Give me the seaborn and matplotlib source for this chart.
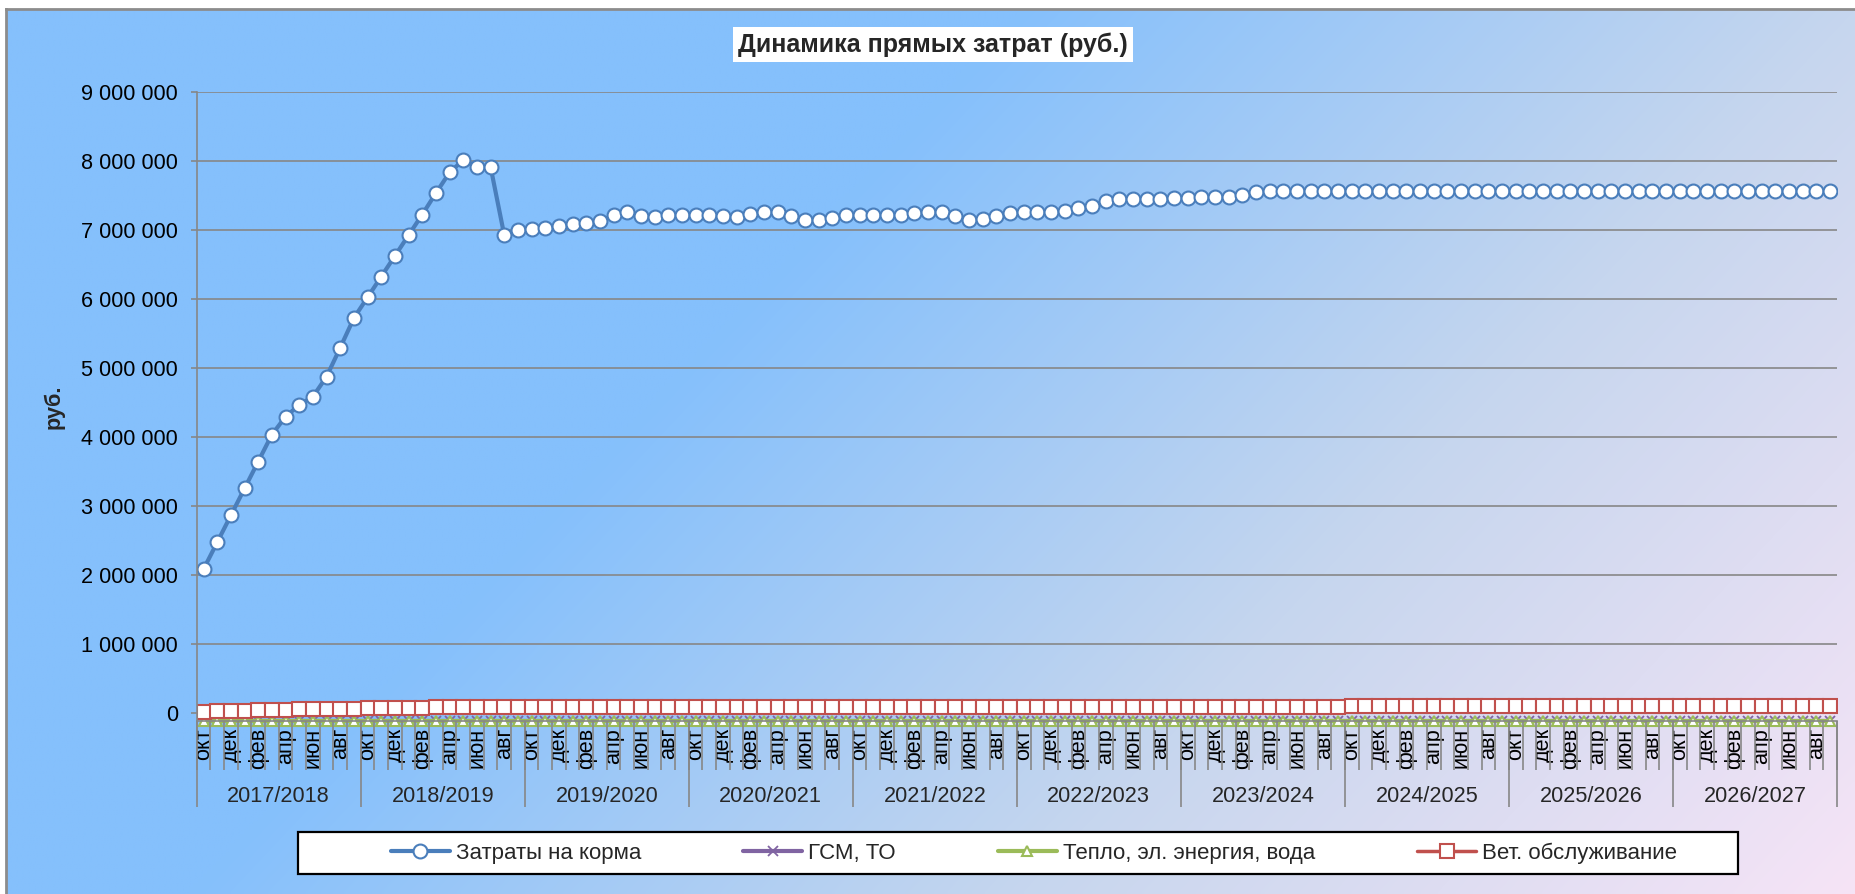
import numpy as np
import matplotlib
matplotlib.use("Agg")
import matplotlib.pyplot as plt
import matplotlib.ticker as mticker
from matplotlib.patches import Rectangle
import seaborn as sns

# --- data (rub.) ---
seasons = ["2017/2018", "2018/2019", "2019/2020", "2020/2021", "2021/2022",
           "2022/2023", "2023/2024", "2024/2025", "2025/2026", "2026/2027"]
months = ["окт", "ноя", "дек", "янв", "фев", "мар", "апр", "май", "июн", "июл", "авг", "сен"]

feed = [
    2080000, 2470000, 2860000, 3250000, 3640000, 4030000, 4290000, 4460000, 4580000, 4870000, 5290000, 5720000,
    6020000, 6320000, 6620000, 6920000, 7220000, 7530000, 7830000, 8010000, 7910000, 7910000, 6920000, 6990000,
    7010000, 7030000, 7050000, 7080000, 7100000, 7120000, 7210000, 7260000, 7200000, 7190000, 7210000, 7220000,
    7220000, 7210000, 7200000, 7190000, 7230000, 7260000, 7260000, 7200000, 7140000, 7140000, 7170000, 7210000,
    7210000, 7210000, 7210000, 7210000, 7240000, 7260000, 7260000, 7200000, 7140000, 7150000, 7200000, 7240000,
    7250000, 7250000, 7260000, 7270000, 7310000, 7350000, 7410000, 7450000, 7440000, 7440000, 7450000, 7460000,
    7460000, 7470000, 7470000, 7470000, 7510000, 7550000, 7560000, 7560000, 7560000, 7560000, 7560000, 7560000,
    7560000, 7560000, 7560000, 7560000, 7560000, 7560000, 7560000, 7560000, 7560000, 7560000, 7560000, 7560000,
    7560000, 7560000, 7560000, 7560000, 7560000, 7560000, 7560000, 7560000, 7560000, 7560000, 7560000, 7560000,
    7560000, 7560000, 7560000, 7560000, 7560000, 7560000, 7560000, 7560000, 7560000, 7560000, 7560000, 7560000,
]

vet = [
    15000, 20000, 25000, 30000, 35000, 40000, 44000, 48000, 52000, 55000, 58000, 61000,
    64000, 67000, 70000, 72000, 75000, 77000, 79000, 81000, 82000, 83000, 84000, 85000,
    86000, 86000, 86000, 86000, 86000, 86000, 86000, 86000, 86000, 86000, 86000, 86000,
    87000, 87000, 87000, 87000, 87000, 87000, 87000, 87000, 87000, 87000, 87000, 87000,
    88000, 88000, 88000, 88000, 88000, 88000, 88000, 88000, 88000, 88000, 88000, 88000,
    89000, 89000, 89000, 89000, 89000, 89000, 89000, 89000, 89000, 89000, 89000, 89000,
    90000, 90000, 90000, 90000, 90000, 90000, 90000, 90000, 90000, 90000, 90000, 90000,
    91000, 91000, 91000, 91000, 91000, 91000, 91000, 91000, 91000, 91000, 91000, 91000,
    92000, 92000, 92000, 92000, 92000, 92000, 92000, 92000, 92000, 92000, 92000, 92000,
    93000, 93000, 93000, 93000, 93000, 93000, 93000, 93000, 93000, 93000, 93000, 93000,
]

# fuel and utilities sit flat on the bottom of the chart (secondary scale)
gsm = [
    0, 0, 0, 0, 0, 0, 0, 0, 0, 0, 0, 0,
    0, 0, 0, 0, 0, 0, 0, 0, 0, 0, 0, 0,
    0, 0, 0, 0, 0, 0, 0, 0, 0, 0, 0, 0,
    0, 0, 0, 0, 0, 0, 0, 0, 0, 0, 0, 0,
    0, 0, 0, 0, 0, 0, 0, 0, 0, 0, 0, 0,
    0, 0, 0, 0, 0, 0, 0, 0, 0, 0, 0, 0,
    0, 0, 0, 0, 0, 0, 0, 0, 0, 0, 0, 0,
    0, 0, 0, 0, 0, 0, 0, 0, 0, 0, 0, 0,
    0, 0, 0, 0, 0, 0, 0, 0, 0, 0, 0, 0,
    0, 0, 0, 0, 0, 0, 0, 0, 0, 0, 0, 0,
]
utilities = [
    0, 0, 0, 0, 0, 0, 0, 0, 0, 0, 0, 0,
    0, 0, 0, 0, 0, 0, 0, 0, 0, 0, 0, 0,
    0, 0, 0, 0, 0, 0, 0, 0, 0, 0, 0, 0,
    0, 0, 0, 0, 0, 0, 0, 0, 0, 0, 0, 0,
    0, 0, 0, 0, 0, 0, 0, 0, 0, 0, 0, 0,
    0, 0, 0, 0, 0, 0, 0, 0, 0, 0, 0, 0,
    0, 0, 0, 0, 0, 0, 0, 0, 0, 0, 0, 0,
    0, 0, 0, 0, 0, 0, 0, 0, 0, 0, 0, 0,
    0, 0, 0, 0, 0, 0, 0, 0, 0, 0, 0, 0,
    0, 0, 0, 0, 0, 0, 0, 0, 0, 0, 0, 0,
]

W, H = 1856, 894
GRID = "#878787"
FS = 15.6

sns.set_theme(style="white")
plt.rcParams["font.family"] = ["Liberation Sans", "DejaVu Sans"]

fig = plt.figure(figsize=(W / 100, H / 100), dpi=100)
fig.patch.set_facecolor("white")

# chart area background: blue fading to lavender on the right
bg = fig.add_axes([6 / W, 0, 1 - 6 / W, 1 - 9 / H], zorder=-10)
u = np.linspace(0, 1, 400)[None, :]
v = np.linspace(0, 1, 200)[:, None]
s = u + 0.45 * v
stops = [0.0, 0.55, 1.0, 1.45]
cols = np.array([[133, 192, 252], [133, 192, 252], [198, 214, 238], [246, 228, 246]]) / 255
img = np.dstack([np.interp(s, stops, cols[:, c]) for c in range(3)])
bg.imshow(img, aspect="auto", extent=[0, 1, 0, 1], interpolation="bilinear")
bg.set_xlim(0, 1)
bg.set_ylim(0, 1)
bg.set_xticks([])
bg.set_yticks([])
for side in ["right", "bottom"]:
    bg.spines[side].set_visible(False)
for side in ["left", "top"]:
    bg.spines[side].set_color("#8c8c8c")
    bg.spines[side].set_linewidth(2)

# main plot
ax = fig.add_axes([196.7 / W, 1 - 721 / H, (1837 - 196.7) / W, (721 - 91.7) / H])
ax.patch.set_alpha(0)
idx = np.arange(len(feed))

sns.lineplot(x=idx, y=feed, ax=ax, color="#4a7ebb", linewidth=3, marker="o",
             markersize=10, markerfacecolor="white", markeredgecolor="#4a7ebb",
             markeredgewidth=1.5, label="Затраты на корма", legend=False)

ax2 = ax.twinx()
ax2.patch.set_alpha(0)
sns.lineplot(x=idx, y=gsm, ax=ax2, color="#8064a2", linewidth=3, marker="x",
             markersize=7, markeredgecolor="#8064a2", markeredgewidth=1.3,
             label="ГСМ, ТО", legend=False, clip_on=False)
sns.lineplot(x=idx, y=utilities, ax=ax2, color="#9bbb59", linewidth=3, marker="^",
             markersize=7, markerfacecolor="white", markeredgecolor="#9bbb59",
             markeredgewidth=1.5, label="Тепло, эл. энергия, вода", legend=False, clip_on=False)
ax2.set_ylim(0, 9120000)
ax2.set_yticks([])
ax2.set_ylabel("")
for sp in ax2.spines.values():
    sp.set_visible(False)

sns.lineplot(x=idx, y=vet, ax=ax, color="#c0504d", linewidth=2.5, marker="s",
             markersize=9.5, markerfacecolor="white", markeredgecolor="#c0504d",
             markeredgewidth=1.5, label="Вет. обслуживание", legend=False)
ax.set_zorder(ax2.get_zorder() + 1)

ax.set_xlim(-0.5, len(feed) - 0.5)
ax.set_ylim(-120000, 9000000)
ax.set_yticks(np.arange(0, 9000001, 1000000))
ax.yaxis.set_major_formatter(mticker.FuncFormatter(lambda val, p: f"{int(val):,}".replace(",", " ")))
ax.grid(axis="y", color=GRID, linewidth=1.2)
ax.grid(axis="x", visible=False)
ax.set_axisbelow(True)
for side in ["top", "right"]:
    ax.spines[side].set_visible(False)
for side in ["left", "bottom"]:
    ax.spines[side].set_color(GRID)
    ax.spines[side].set_linewidth(1.2)
ax.tick_params(axis="y", left=True, length=4.5, width=1.2, color=GRID, pad=9, labelsize=FS, labelcolor="black")
ax.set_ylabel("руб.", fontsize=FS, fontweight="bold", labelpad=12)
ax.set_xlabel("")

# month labels (every second month) and category separators
month_labels = [months[i % 12] for i in idx]
ax.set_xticks(idx[::2])
ax.set_xticklabels(month_labels[::2], rotation=90, fontsize=FS)
ax.set_xticks(np.arange(-0.5, len(feed), 1), minor=True)
ax.tick_params(axis="x", which="major", bottom=True, length=0, pad=5, labelcolor="black")
ax.tick_params(axis="x", which="minor", bottom=True, length=35, width=1.2, color=GRID)

# season level of the category axis
sec = ax.secondary_xaxis("bottom")
sec.set_xticks(np.arange(-0.5, len(feed), 12))
sec.set_xticklabels([])
sec.set_xticks(np.arange(5.5, len(feed), 12), minor=True)
sec.set_xticklabels(seasons, minor=True, fontsize=FS)
sec.tick_params(axis="x", which="major", length=62, width=1.2, color=GRID)
sec.tick_params(axis="x", which="minor", length=0, pad=47)
sec.spines["bottom"].set_visible(False)

# title
fig.text(933 / W, 1 - 44.5 / H, "Динамика прямых затрат (руб.)", fontsize=18,
         fontweight="bold", ha="center", va="center",
         bbox=dict(facecolor="white", edgecolor="none", pad=4))

# legend: box drawn separately, entries centred a bit right of it like the original
fig.patches.append(Rectangle((298 / W, 1 - 874 / H), (1738 - 298) / W, 42 / H,
                             transform=fig.transFigure, facecolor="white",
                             edgecolor="black", linewidth=1.6, zorder=5))
h1, l1 = ax.get_legend_handles_labels()
h2, l2 = ax2.get_legend_handles_labels()
order = [h1[0], h2[0], h2[1], h1[1]]
labels = [l1[0], l2[0], l2[1], l1[1]]
leg = fig.legend(order, labels, loc="center", ncol=4, fontsize=16,
                 bbox_to_anchor=(1034 / W, 1 - 853 / H), frameon=False,
                 columnspacing=4.6, handlelength=2.65, handletextpad=0.27)
leg.set_zorder(6)

fig.savefig("out.png", dpi=100, facecolor=fig.get_facecolor())
